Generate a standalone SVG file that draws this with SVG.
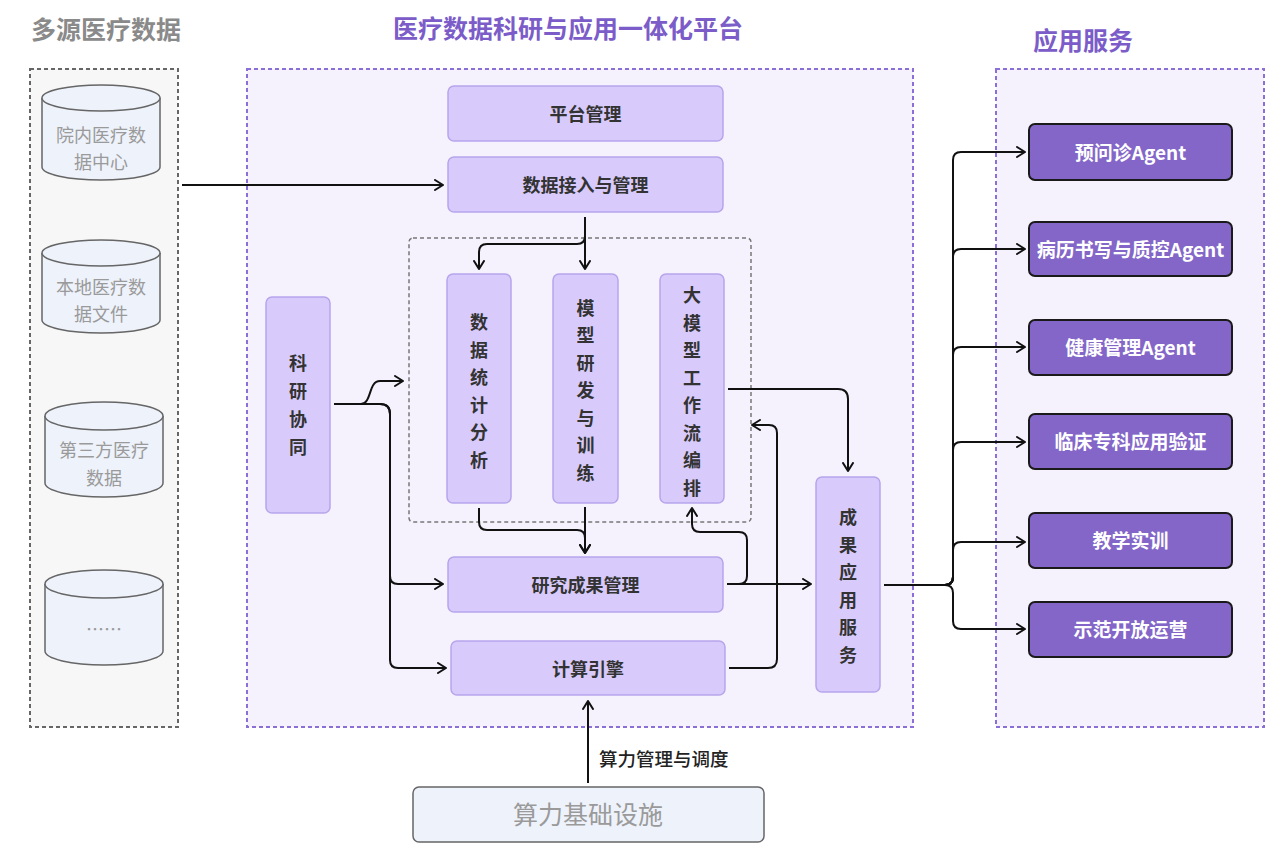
<svg xmlns="http://www.w3.org/2000/svg" width="1280" height="848" viewBox="0 0 1280 848">
<defs>
<marker id="ah" viewBox="0 0 10 12" refX="9" refY="6" markerWidth="10" markerHeight="12" orient="auto" markerUnits="userSpaceOnUse">
<path d="M1,1 L9,6 L1,11" fill="none" stroke="#111" stroke-width="2" stroke-linecap="round" stroke-linejoin="round"/>
</marker>
</defs>
<style>
text{font-family:"Noto Sans CJK SC","Noto Sans",sans-serif;}
.title{font-size:25px;font-weight:bold;text-anchor:middle;}
.cyl{fill:#eef2fb;stroke:#666;stroke-width:1.5;}
.cylt{font-size:18px;fill:#9a9a9a;text-anchor:middle;}
.pn{fill:#d8cbfb;stroke:#b7a5ec;stroke-width:1.5;}
.pt{font-size:18px;font-weight:bold;fill:#333;text-anchor:middle;}
.an{fill:#8366c8;stroke:#1a1a1a;stroke-width:2;}
.at{font-size:19px;font-weight:bold;fill:#fff;text-anchor:middle;}
.conn path{fill:none;stroke:#111;stroke-width:2;}
</style>
<rect width="1280" height="848" fill="#ffffff"/>

<g id="source-group">
<rect x="30" y="69" width="148" height="658" fill="#f7f7f7" stroke="#666" stroke-width="2" stroke-dasharray="4 3"/>
<text class="title" x="106" y="39" fill="#8a8a8a">多源医疗数据</text>
</g>
<g id="platform-group">
<rect x="247" y="69" width="666" height="658" fill="#f5f2fd" stroke="#8b6fd6" stroke-width="2" stroke-dasharray="4 3"/>
<text class="title" x="568" y="38" fill="#7b5cc8">医疗数据科研与应用一体化平台</text>
</g>
<g id="service-group">
<rect x="996" y="69" width="268" height="658" fill="#f5f2fd" stroke="#8b6fd6" stroke-width="2" stroke-dasharray="4 3"/>
<text class="title" x="1083" y="50" fill="#7b5cc8">应用服务</text>
</g>

<g id="src1">
<path class="cyl" d="M42,98 A59,13 0 0 1 160,98 V167 A59,13 0 0 1 42,167 Z"/>
<path class="cyl" d="M42,98 A59,13 0 0 0 160,98" fill="none"/>
<text class="cylt" x="101" y="142">院内医疗数</text>
<text class="cylt" x="101" y="169">据中心</text>
</g>
<g id="src2">
<path class="cyl" d="M42,253 A59,13 0 0 1 160,253 V320 A59,13 0 0 1 42,320 Z"/>
<path class="cyl" d="M42,253 A59,13 0 0 0 160,253" fill="none"/>
<text class="cylt" x="101" y="294">本地医疗数</text>
<text class="cylt" x="101" y="321">据文件</text>
</g>
<g id="src3">
<path class="cyl" d="M45,416 A59,14 0 0 1 163,416 V483 A59,14 0 0 1 45,483 Z"/>
<path class="cyl" d="M45,416 A59,14 0 0 0 163,416" fill="none"/>
<text class="cylt" x="104" y="457">第三方医疗</text>
<text class="cylt" x="104" y="485">数据</text>
</g>
<g id="src4">
<path class="cyl" d="M45,584 A59,14 0 0 1 163,584 V651 A59,14 0 0 1 45,651 Z"/>
<path class="cyl" d="M45,584 A59,14 0 0 0 163,584" fill="none"/>
<text class="cylt" x="104" y="636" font-size="14">……</text>
</g>

<g id="inner-box">
<rect x="409" y="238" width="342" height="284" rx="4" fill="none" stroke="#777" stroke-width="1.5" stroke-dasharray="4 3"/>
</g>

<g id="n-platform"><rect class="pn" x="448" y="86" width="275" height="55" rx="6"/><text class="pt" x="585.5" y="121">平台管理</text></g>
<g id="n-ingest"><rect class="pn" x="448" y="157" width="275" height="55" rx="6"/><text class="pt" x="585.5" y="192">数据接入与管理</text></g>
<g id="n-stat"><rect class="pn" x="447" y="274" width="64" height="229" rx="6"/>
<text class="pt"><tspan x="479" y="329">数</tspan><tspan x="479" y="356.5">据</tspan><tspan x="479" y="384">统</tspan><tspan x="479" y="411.5">计</tspan><tspan x="479" y="439">分</tspan><tspan x="479" y="466.5">析</tspan></text></g>
<g id="n-model"><rect class="pn" x="553" y="274" width="65" height="229" rx="6"/>
<text class="pt"><tspan x="585.5" y="314.5">模</tspan><tspan x="585.5" y="342">型</tspan><tspan x="585.5" y="369.5">研</tspan><tspan x="585.5" y="397">发</tspan><tspan x="585.5" y="424.5">与</tspan><tspan x="585.5" y="452">训</tspan><tspan x="585.5" y="479.5">练</tspan></text></g>
<g id="n-llm"><rect class="pn" x="660" y="274" width="64" height="229" rx="6"/>
<text class="pt"><tspan x="692" y="302">大</tspan><tspan x="692" y="329.5">模</tspan><tspan x="692" y="357">型</tspan><tspan x="692" y="384.5">工</tspan><tspan x="692" y="412">作</tspan><tspan x="692" y="439.5">流</tspan><tspan x="692" y="467">编</tspan><tspan x="692" y="494.5">排</tspan></text></g>
<g id="n-collab"><rect class="pn" x="266" y="297" width="64" height="216" rx="6"/>
<text class="pt"><tspan x="298" y="370">科</tspan><tspan x="298" y="398">研</tspan><tspan x="298" y="426">协</tspan><tspan x="298" y="454">同</tspan></text></g>
<g id="n-result"><rect class="pn" x="448" y="557" width="275" height="55" rx="6"/><text class="pt" x="585.5" y="592">研究成果管理</text></g>
<g id="n-compute"><rect class="pn" x="451" y="641" width="274" height="54" rx="6"/><text class="pt" x="588" y="676">计算引擎</text></g>
<g id="n-apply"><rect class="pn" x="816" y="477" width="64" height="215" rx="6"/>
<text class="pt"><tspan x="848" y="524">成</tspan><tspan x="848" y="551.5">果</tspan><tspan x="848" y="579">应</tspan><tspan x="848" y="606.5">用</tspan><tspan x="848" y="634">服</tspan><tspan x="848" y="661.5">务</tspan></text></g>

<g id="a1"><rect class="an" x="1029" y="124" width="203" height="56" rx="6"/><text class="at" x="1130.5" y="160">预问诊Agent</text></g>
<g id="a2"><rect class="an" x="1029" y="222" width="203" height="54" rx="6"/><text class="at" x="1130.5" y="257">病历书写与质控Agent</text></g>
<g id="a3"><rect class="an" x="1029" y="320" width="203" height="55" rx="6"/><text class="at" x="1130.5" y="355">健康管理Agent</text></g>
<g id="a4"><rect class="an" x="1029" y="414" width="203" height="55" rx="6"/><text class="at" x="1130.5" y="449">临床专科应用验证</text></g>
<g id="a5"><rect class="an" x="1029" y="513" width="203" height="55" rx="6"/><text class="at" x="1130.5" y="548">教学实训</text></g>
<g id="a6"><rect class="an" x="1029" y="602" width="203" height="55" rx="6"/><text class="at" x="1130.5" y="637">示范开放运营</text></g>

<g id="n-infra"><rect x="413" y="787" width="351" height="55" rx="6" fill="#eef2fb" stroke="#666" stroke-width="1.5"/><text x="588" y="824" font-size="25" fill="#9a9a9a" text-anchor="middle">算力基础设施</text></g>

<g id="connectors" class="conn">
<path marker-end="url(#ah)" d="M182,185 H443"/>
<path marker-end="url(#ah)" d="M585,217 V269"/>
<path marker-end="url(#ah)" d="M585,217 V236 Q585,244 577,244 H487 Q479,244 479,252 V269"/>
<path marker-end="url(#ah)" d="M334,404 H361 C372,404 368,381 380,381 H403"/>
<path marker-end="url(#ah)" d="M334,404 H380 Q390,404 390,414 V576 Q390,584 398,584 H443"/>
<path marker-end="url(#ah)" d="M334,404 H380 Q390,404 390,414 V660 Q390,668 398,668 H446"/>
<path marker-end="url(#ah)" d="M479,508 V522 Q479,530 487,530 H577 Q585,530 585,538 V553"/>
<path marker-end="url(#ah)" d="M585,507 V553"/>
<path marker-end="url(#ah)" d="M727,584 H811"/>
<path marker-end="url(#ah)" d="M727,584 H739 Q747,584 747,576 V540 Q747,532 739,532 H700 Q692,532 692,524 V508"/>
<path marker-end="url(#ah)" d="M729,668 H768 Q777,668 777,659 V433 Q777,425 769,425 H752"/>
<path marker-end="url(#ah)" d="M728,389 H838 Q848,389 848,399 V471"/>
<path marker-end="url(#ah)" d="M588,783 V701"/>
<path marker-end="url(#ah)" d="M884,585 H945 Q953,585 953,577 V160 Q953,152 961,152 H1025"/>
<path marker-end="url(#ah)" d="M884,585 H945 Q953,585 953,577 V257 Q953,249 961,249 H1025"/>
<path marker-end="url(#ah)" d="M884,585 H945 Q953,585 953,577 V355 Q953,347 961,347 H1025"/>
<path marker-end="url(#ah)" d="M884,585 H945 Q953,585 953,577 V450 Q953,442 961,442 H1025"/>
<path marker-end="url(#ah)" d="M884,585 H945 Q953,585 953,577 V550 Q953,542 961,542 H1025"/>
<path marker-end="url(#ah)" d="M884,585 H945 Q953,585 953,593 V621 Q953,629 961,629 H1025"/>
<text x="599" y="766" font-size="18.5" font-weight="500" fill="#222" stroke="none">算力管理与调度</text>
</g>
</svg>
